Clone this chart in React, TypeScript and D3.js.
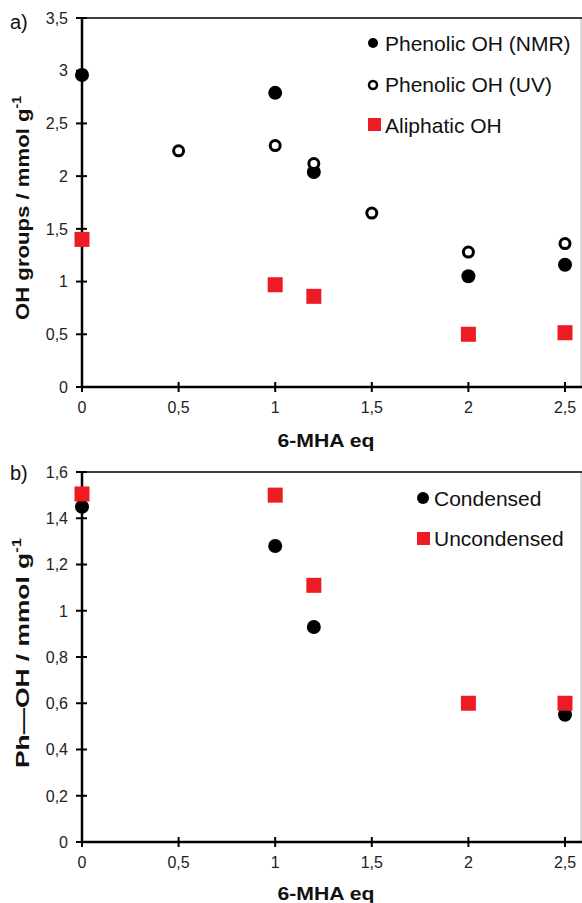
import React, { useEffect } from "react";
import * as d3 from "d3";

// ---------- data ----------
const xTicks = [0, 0.5, 1, 1.5, 2, 2.5];
const yTicksA = [0, 0.5, 1, 1.5, 2, 2.5, 3, 3.5];
const yTicksB = [0, 0.2, 0.4, 0.6, 0.8, 1, 1.2, 1.4, 1.6];

const xNMR = [0, 1, 1.2, 2, 2.5];
const phenolicNMR = [2.96, 2.79, 2.04, 1.05, 1.16];
const xUV = [0.5, 1, 1.2, 1.5, 2, 2.5];
const phenolicUV = [2.24, 2.29, 2.12, 1.65, 1.28, 1.36];
const xAliph = [0, 1, 1.2, 2, 2.5];
const aliphaticOH = [1.4, 0.97, 0.86, 0.5, 0.515];

const xB = [0, 1, 1.2, 2, 2.5];
const condensed = [1.45, 1.28, 0.93, 0.6, 0.55];
const uncondensed = [1.505, 1.5, 1.11, 0.6, 0.6];

const legendA = ["Phenolic OH (NMR)", "Phenolic OH (UV)", "Aliphatic OH"];
const legendB = ["Condensed", "Uncondensed"];

const FONT = "'Liberation Sans', Arial, sans-serif";
const RED = "#ed1c24";
const fmt = (v: number) => String(+v.toFixed(1)).replace(".", ",");

type PanelProps = {
  axisY: number;
  topY: number;
  yMax: number;
  yTicks: number[];
  label: string;
  labelY: number;
  yTitleMain: string;
  yTitleCenter: number;
  yTitleLen: number;
  xTitleY: number;
  children: (x: d3.ScaleLinear<number, number>, y: d3.ScaleLinear<number, number>) => React.ReactNode;
};

function Panel(p: PanelProps) {
  const x = d3.scaleLinear().domain([0, 2.6]).range([82, 82 + 2.6 * 193.2]);
  const y = d3.scaleLinear().domain([0, p.yMax]).range([p.axisY, p.topY]);
  return (
    <g>
      {/* right border */}
      <line x1={581} x2={581} y1={p.topY} y2={p.axisY} stroke="#cfcfcf" strokeWidth={1.5} />
      {/* top line */}
      <line x1={82} x2={582} y1={p.topY} y2={p.topY} stroke="#000" strokeWidth={1.5} />
      {/* y axis */}
      <line x1={82} x2={82} y1={p.topY} y2={p.axisY} stroke="#000" strokeWidth={2.5} />
      {p.yTicks.map((t) => (
        <g key={"y" + t}>
          <line x1={76} x2={87} y1={y(t)} y2={y(t)} stroke="#000" strokeWidth={2} />
          <text x={68} y={y(t)} dy="0.36em" textAnchor="end" fontSize={16} fontFamily={FONT} fill="#222">
            {fmt(t)}
          </text>
        </g>
      ))}
      {/* x axis */}
      <line x1={82} x2={582} y1={p.axisY} y2={p.axisY} stroke="#000" strokeWidth={2.5} />
      {xTicks.map((t) => (
        <g key={"x" + t}>
          <line x1={x(t)} x2={x(t)} y1={p.axisY - 5} y2={p.axisY + 5} stroke="#000" strokeWidth={2} />
          <text x={x(t)} y={p.axisY + 26} textAnchor="middle" fontSize={16} fontFamily={FONT} fill="#222">
            {fmt(t)}
          </text>
        </g>
      ))}
      <text x={326} y={p.xTitleY} textAnchor="middle" fontSize={19} fontWeight="bold" fontFamily={FONT}
        textLength={97} lengthAdjust="spacingAndGlyphs" fill="#111">
        6-MHA eq
      </text>
      <text
        transform={`translate(29,${p.yTitleCenter}) rotate(-90)`}
        textAnchor="middle"
        fontSize={19}
        fontWeight="bold"
        fontFamily={FONT}
        textLength={p.yTitleLen}
        lengthAdjust="spacingAndGlyphs"
        fill="#111"
      >
        {p.yTitleMain}
        <tspan fontSize={12} dy={-8}>-1</tspan>
      </text>
      <text x={10} y={p.labelY} dy="0.36em" fontSize={20} fontFamily={FONT} fill="#111">
        {p.label}
      </text>
      {p.children(x, y)}
    </g>
  );
}

export default function App() {
  useEffect(() => {
    document.body.style.margin = "0";
  }, []);
  return (
    <svg width={582} height={903} style={{ display: "block", background: "#fff" }}>
      <rect width={582} height={903} fill="#fff" />
      <Panel
        axisY={387}
        topY={18}
        yMax={3.5}
        yTicks={yTicksA}
        label="a)"
        labelY={22}
        yTitleMain="OH groups / mmol g"
        yTitleCenter={208}
        yTitleLen={224}
        xTitleY={447}
      >
        {(x, y) => (
          <g>
            {phenolicNMR.map((v, i) => (
              <circle key={"n" + i} cx={x(xNMR[i])} cy={y(v)} r={7} fill="#000" />
            ))}
            {phenolicUV.map((v, i) => (
              <circle key={"u" + i} cx={x(xUV[i])} cy={y(v)} r={5} fill="#fff" stroke="#000" strokeWidth={3} />
            ))}
            {aliphaticOH.map((v, i) => (
              <rect key={"a" + i} x={x(xAliph[i]) - 7.5} y={y(v) - 7.5} width={15} height={15} fill={RED} />
            ))}
            {/* legend */}
            <circle cx={373} cy={43} r={5} fill="#000" />
            <circle cx={373} cy={85} r={4} fill="#fff" stroke="#000" strokeWidth={2.5} />
            <rect x={368} y={118} width={13} height={13} fill={RED} />
            {legendA.map((t, i) => (
              <text key={t} x={385} y={43 + i * 41} dy="0.36em" fontSize={21} fontFamily={FONT} fill="#111">
                {t}
              </text>
            ))}
          </g>
        )}
      </Panel>
      <Panel
        axisY={842}
        topY={472}
        yMax={1.6}
        yTicks={yTicksB}
        label="b)"
        labelY={473}
        yTitleMain="Ph—OH / mmol g"
        yTitleCenter={653}
        yTitleLen={230}
        xTitleY={900}
      >
        {(x, y) => (
          <g>
            {condensed.map((v, i) => (
              <circle key={"c" + i} cx={x(xB[i])} cy={y(v)} r={7} fill="#000" />
            ))}
            {uncondensed.map((v, i) => (
              <rect key={"q" + i} x={x(xB[i]) - 7.5} y={y(v) - 7.5} width={15} height={15} fill={RED} />
            ))}
            <circle cx={423} cy={498} r={6} fill="#000" />
            <rect x={417} y={532} width={13} height={13} fill={RED} />
            {legendB.map((t, i) => (
              <text key={t} x={434} y={498 + i * 40} dy="0.36em" fontSize={21} fontFamily={FONT} fill="#111">
                {t}
              </text>
            ))}
          </g>
        )}
      </Panel>
    </svg>
  );
}
